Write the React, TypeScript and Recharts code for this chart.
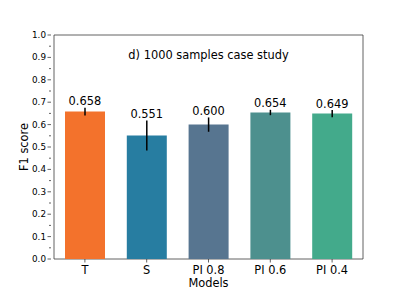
import {
  ComposedChart,
  Bar,
  Line,
  Cell,
  XAxis,
  YAxis,
  ErrorBar,
  ReferenceArea,
} from 'recharts';

const models = ['T', 'S', 'PI 0.8', 'PI 0.6', 'PI 0.4'];
const f1Scores = [0.658, 0.551, 0.6, 0.654, 0.649];
const f1Errors = [0.017, 0.067, 0.032, 0.012, 0.016];
const barColors = ['#F3722C', '#277DA1', '#577590', '#4D908E', '#43AA8B'];
const yTicks = [
  0, 0.05, 0.1, 0.15, 0.2, 0.25, 0.3, 0.35, 0.4, 0.45, 0.5, 0.55, 0.6, 0.65, 0.7, 0.75, 0.8, 0.85,
  0.9, 0.95, 1.0,
];

const data = models.map((m, i) => ({
  model: m,
  score: f1Scores[i],
  err: f1Errors[i],
  top: f1Scores[i] + f1Errors[i],
}));

const font = '"DejaVu Sans", sans-serif';
const spine = '#3a3a3a';
const textSize = 11.4;

function YTick(props: any) {
  const { x, y, payload } = props;
  const v = payload.value as number;
  const major = Math.round(v * 100) % 10 === 0;
  return (
    <g>
      <line x1={x} x2={x - (major ? 3.5 : 2)} y1={y} y2={y} stroke={spine} strokeWidth={0.8} />
      {major && (
        <text x={x - 5} y={y} dy="0.33em" textAnchor="end" fontSize={8.8} fill="#000" fontFamily={font}>
          {v.toFixed(1)}
        </text>
      )}
    </g>
  );
}

function XTick(props: any) {
  const { x, y, payload } = props;
  return (
    <g>
      <line x1={x} x2={x} y1={y} y2={y + 3.5} stroke={spine} strokeWidth={0.8} />
      <text x={x} y={y + 14.5} textAnchor="middle" fontSize={textSize} fill="#000" fontFamily={font}>
        {payload.value}
      </text>
    </g>
  );
}

function ValueLabel(props: any) {
  const { x, y, index } = props;
  return (
    <text x={x} y={y - 2.5} textAnchor="middle" fontSize={textSize} fill="#000" fontFamily={font}>
      {f1Scores[index].toFixed(3)}
    </text>
  );
}

export default function App() {
  return (
    <div style={{ position: 'absolute', left: 0, top: 0, width: 407, height: 291, background: '#fff' }}>
      <ComposedChart
        width={407}
        height={291}
        data={data}
        margin={{ top: 35, right: 41, bottom: 0, left: 0 }}
      >
        <XAxis
          dataKey="model"
          height={32}
          padding={{ left: 3, right: 3 }}
          tickLine={false}
          axisLine={false}
          tickSize={0}
          tickMargin={0}
          tick={<XTick />}
          interval={0}
          label={{ value: 'Models', position: 'insideBottom', offset: 4, fontSize: textSize, fill: '#000', fontFamily: font }}
        />
        <YAxis
          width={51}
          domain={[0, 1]}
          ticks={yTicks}
          interval={0}
          tickLine={false}
          axisLine={false}
          tickSize={0}
          tickMargin={0}
          tick={<YTick />}
          label={{
            value: 'F1 score',
            angle: -90,
            position: 'insideLeft',
            offset: 24,
            style: { textAnchor: 'middle' },
            fontSize: textSize,
            fill: '#000',
            fontFamily: font,
          }}
        />
        <Bar dataKey="score" barSize={40} isAnimationActive={false}>
          {data.map((d, i) => (
            <Cell key={d.model} fill={barColors[i]} />
          ))}
          <ErrorBar dataKey="err" width={0} stroke="#000" strokeWidth={1.5} direction="y" />
        </Bar>
        <Line
          dataKey="top"
          stroke="none"
          dot={false}
          activeDot={false}
          isAnimationActive={false}
          label={<ValueLabel />}
        />
        <ReferenceArea y1={0} y2={1} fill="none" stroke={spine} strokeWidth={0.8} ifOverflow="visible" />
      </ComposedChart>
      <div
        style={{
          position: 'absolute',
          left: 51,
          width: 315,
          top: 48,
          textAlign: 'center',
          fontFamily: font,
          fontSize: textSize,
          lineHeight: '14px',
          color: '#000',
        }}
      >
        d) 1000 samples case study
      </div>
    </div>
  );
}
